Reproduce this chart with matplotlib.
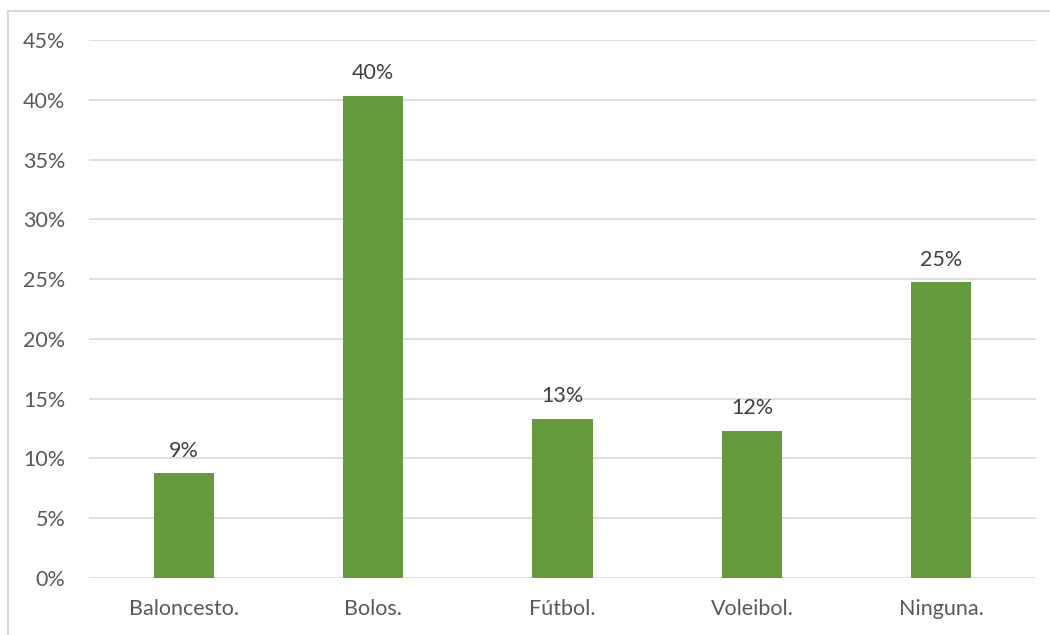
import matplotlib.pyplot as plt
from matplotlib.lines import Line2D
from matplotlib.ticker import FuncFormatter, MultipleLocator

categories = ["Baloncesto.", "Bolos.", "Fútbol.", "Voleibol.", "Ninguna."]
values = [8.75, 40.33, 13.33, 12.33, 24.75]

bar_color = "#629a3c"
text_color = "#595959"
grid_color = "#d9d9d9"

plt.rcParams["font.family"] = ["Lato", "DejaVu Sans"]

W, H = 1050, 635
fig = plt.figure(figsize=(W / 100, H / 100), dpi=100)
ax = fig.add_axes([89 / W, 1 - 578 / H, (1036 - 89) / W, (578 - 40) / H])

x = range(len(categories))
bars = ax.bar(x, values, width=0.317, color=bar_color, zorder=3)

for rect, v in zip(bars, values):
    ax.annotate(f"{round(v):d}%", (rect.get_x() + rect.get_width() / 2, v),
                xytext=(0, 9), textcoords="offset points",
                ha="center", va="bottom", fontsize=15.5, color="#404040")

ax.set_xlim(-0.5, len(categories) - 0.5)
ax.set_ylim(0, 45)
ax.yaxis.set_major_locator(MultipleLocator(5))
ax.yaxis.set_major_formatter(FuncFormatter(lambda v, _: f"{v:.0f}%"))
ax.set_xticks(list(x))
ax.set_xticklabels(categories)

ax.grid(axis="y", color=grid_color, linewidth=1.2, zorder=0)
for s in ax.spines.values():
    s.set_visible(False)
ax.tick_params(axis="both", length=0, labelsize=15.5, colors=text_color)
ax.tick_params(axis="y", pad=17)
ax.tick_params(axis="x", pad=15)

# chart-area frame (left and top edges)
fig.add_artist(Line2D([8 / W, 8 / W], [0, 1 - 11 / H], transform=fig.transFigure,
                      color=grid_color, linewidth=1.5))
fig.add_artist(Line2D([8 / W, 1], [1 - 11 / H, 1 - 11 / H], transform=fig.transFigure,
                      color=grid_color, linewidth=1.5))

fig.savefig("out.png", dpi=100)
